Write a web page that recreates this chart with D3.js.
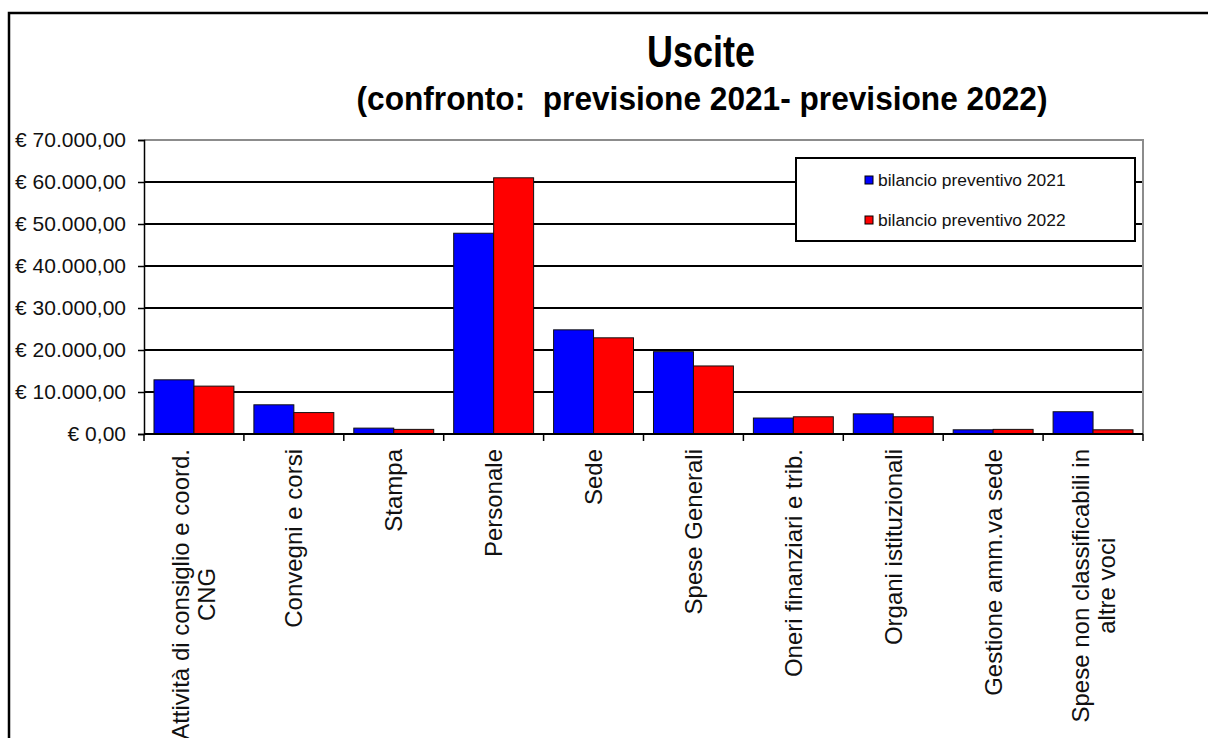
<!DOCTYPE html>
<html>
<head>
<meta charset="utf-8">
<script src="https://cdn.jsdelivr.net/npm/d3@7/dist/d3.min.js"></script>
<style>
  body { margin: 0; background: #fff; }
  svg { display: block; font-family: "Liberation Sans", Arial, sans-serif; }
</style>
</head>
<body>
<svg id="chart" width="1208" height="738"></svg>
<script>
// dati
var categorie = [
  'Attività di consiglio e coord.\nCNG',
  'Convegni e corsi',
  'Stampa',
  'Personale',
  'Sede',
  'Spese Generali',
  'Oneri finanziari e trib.',
  'Organi istituzionali',
  'Gestione amm.va sede',
  'Spese non classificabili in\naltre voci'
];
var serie = ['bilancio preventivo 2021', 'bilancio preventivo 2022'];
var colori = ['#0000ff', '#ff0000'];
var prev2021 = [12900, 6950, 1400, 47800, 24800, 19600, 3800, 4800, 1000, 5300];
var prev2022 = [11400, 5100, 1100, 61000, 22900, 16200, 4100, 4100, 1100, 1000];
var yTicks = [0, 10000, 20000, 30000, 40000, 50000, 60000, 70000];

var svg = d3.select('#chart');
// attenzione: "top" e' gia' window.top, quindi nomi diversi
var pLeft = 144, pRight = 1143, pTop = 140, pBottom = 434;

// cornice esterna (tagliata a destra e in basso)
svg.append('rect')
  .attr('x', 9).attr('y', 13).attr('width', 1260).attr('height', 800)
  .attr('fill', 'none').attr('stroke', '#000').attr('stroke-width', 2.5);

// titolo
svg.append('text')
  .attr('x', 701).attr('y', 67).attr('text-anchor', 'middle')
  .attr('font-size', 44).attr('font-weight', 'bold')
  .attr('textLength', 108).attr('lengthAdjust', 'spacingAndGlyphs')
  .text('Uscite');
svg.append('text')
  .attr('x', 702).attr('y', 110).attr('text-anchor', 'middle')
  .attr('font-size', 33).attr('font-weight', 'bold')
  .attr('textLength', 691).attr('lengthAdjust', 'spacingAndGlyphs')
  .style('white-space', 'pre')
  .text('(confronto:  previsione 2021- previsione 2022)');

var y = d3.scaleLinear().domain([0, 70000]).range([pBottom, pTop]);
var x = d3.scaleBand().domain(categorie).range([pLeft, pRight]);
var x1 = d3.scaleBand().domain(serie).range([0, x.bandwidth() * 0.8]);

var it = d3.formatLocale({decimal: ',', thousands: '.', grouping: [3], currency: ['€ ', '']});
var euro = it.format('$,.2f');

// griglia
svg.append('g').selectAll('line')
  .data(yTicks.filter(function(d) { return d > 0 && d < 70000; }))
  .enter().append('line')
  .attr('x1', pLeft).attr('x2', pRight)
  .attr('y1', function(d) { return y(d); }).attr('y2', function(d) { return y(d); })
  .attr('stroke', '#000').attr('stroke-width', 2);

// bordo area grafico (grigio sopra e a destra)
svg.append('path')
  .attr('d', 'M' + pLeft + ',' + y(70000) + 'H' + pRight + 'V' + pBottom)
  .attr('fill', 'none').attr('stroke', '#8c8c8c').attr('stroke-width', 2);

// barre
var valori = [prev2021, prev2022];
var gruppi = svg.append('g').selectAll('g')
  .data(categorie).enter().append('g')
  .attr('transform', function(d) { return 'translate(' + (x(d) + x.bandwidth() * 0.1) + ',0)'; });
gruppi.selectAll('rect')
  .data(function(d, i) { return serie.map(function(s, j) { return {s: s, v: valori[j][i], c: colori[j]}; }); })
  .enter().append('rect')
  .attr('x', function(d) { return x1(d.s); })
  .attr('width', x1.bandwidth())
  .attr('y', function(d) { return y(d.v); })
  .attr('height', function(d) { return pBottom - y(d.v); })
  .attr('fill', function(d) { return d.c; })
  .attr('stroke', '#111').attr('stroke-width', 1);

// asse y
var yAxis = svg.append('g')
  .attr('transform', 'translate(' + pLeft + ',0)')
  .call(d3.axisLeft(y).tickValues(yTicks).tickFormat(euro).tickSize(6).tickPadding(12));
yAxis.select('.domain').attr('stroke', '#000').attr('stroke-width', 1.5);
yAxis.selectAll('.tick line').attr('stroke', '#000').attr('stroke-width', 1.5);
yAxis.selectAll('.tick text')
  .attr('font-size', 21).attr('fill', '#111')
  .attr('font-family', '"Liberation Sans", Arial, sans-serif');

// asse x
svg.append('line')
  .attr('x1', pLeft).attr('x2', pRight).attr('y1', pBottom).attr('y2', pBottom)
  .attr('stroke', '#000').attr('stroke-width', 2);
var confini = categorie.map(function(c) { return x(c); }).concat([pRight]);
svg.append('g').selectAll('line')
  .data(confini).enter().append('line')
  .attr('x1', function(d) { return d; }).attr('x2', function(d) { return d; })
  .attr('y1', pBottom).attr('y2', pBottom + 7)
  .attr('stroke', '#000').attr('stroke-width', 1.5);

// etichette categorie ruotate
var fs = 24, interlinea = 26;
categorie.forEach(function(c) {
  var righe = c.split('\n');
  var cx = x(c) + x.bandwidth() / 2;
  var g = svg.append('g').attr('transform', 'translate(' + cx + ',449) rotate(-90)');
  var testi = righe.map(function(r, i) {
    return g.append('text')
      .attr('y', (i - (righe.length - 1) / 2) * interlinea)
      .attr('dominant-baseline', 'central')
      .attr('text-anchor', 'middle')
      .attr('font-size', fs).attr('fill', '#111')
      .text(r);
  });
  var maxLen = d3.max(testi, function(t) { return t.node().getComputedTextLength(); });
  testi.forEach(function(t) { t.attr('x', -maxLen / 2); });
});

// legenda
var leg = svg.append('g');
leg.append('rect')
  .attr('x', 796).attr('y', 158).attr('width', 339).attr('height', 83)
  .attr('fill', '#fff').attr('stroke', '#000').attr('stroke-width', 2);
var voci = leg.selectAll('g.voce').data(serie).enter().append('g')
  .attr('transform', function(d, i) { return 'translate(865,' + (180 + i * 40) + ')'; });
voci.append('rect')
  .attr('x', 0).attr('y', -4).attr('width', 8).attr('height', 8)
  .attr('fill', function(d, i) { return colori[i]; })
  .attr('stroke', '#000').attr('stroke-width', 1);
voci.append('text')
  .attr('x', 13).attr('y', 0).attr('dominant-baseline', 'central')
  .attr('font-size', 17.4).attr('fill', '#111')
  .text(function(d) { return d; });
</script>
</body>
</html>
